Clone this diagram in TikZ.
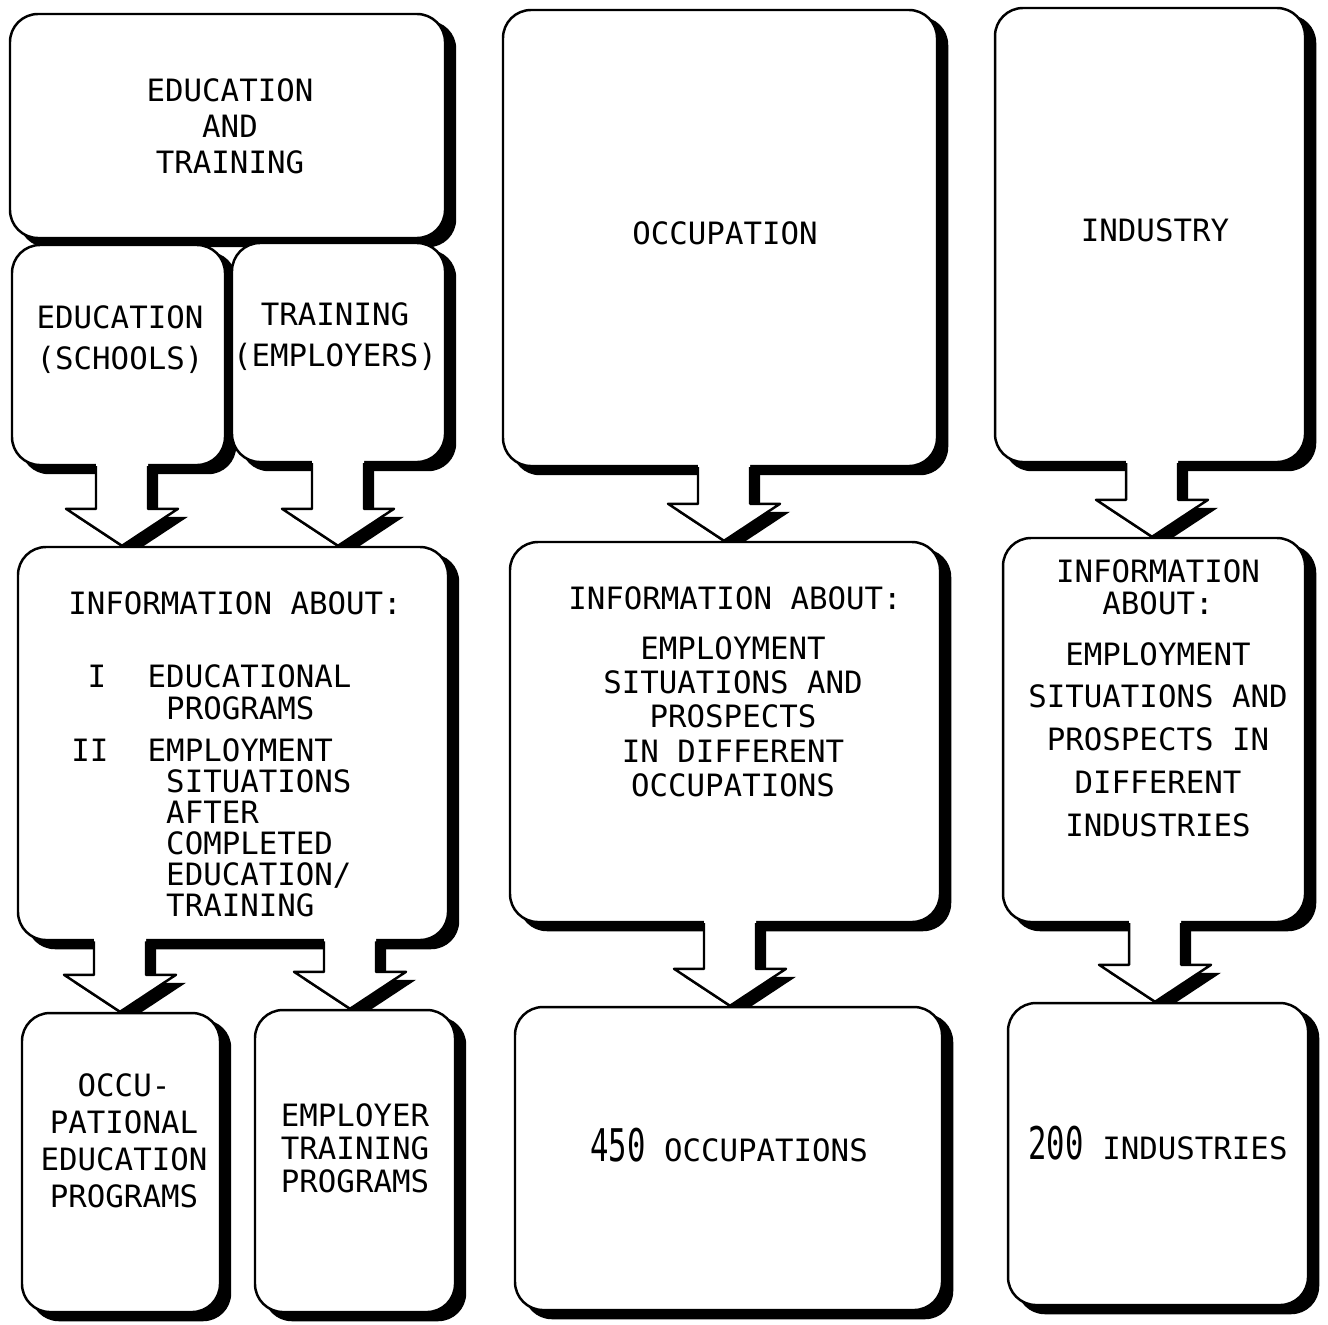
\documentclass[tikz,border=0pt]{standalone}
\usepackage{fontspec}
\usepackage{graphicx}
\usetikzlibrary{calc, fit}
\newfontfamily\typer{DejaVu Sans Mono}
\pgfdeclarelayer{shade}
\pgfsetlayers{shade,main}

\tikzset{
  panel/.style={draw, line width=0.7pt, fill=white, rounded corners=0.28cm, inner sep=0pt},
  txt/.style={font=\typer\fontsize{8.75pt}{#1}\selectfont, align=center, inner sep=0pt},
  txt/.default=10pt,
  lefttxt/.style={txt=#1, align=left, anchor=west},
  shadowshift/.style={transform canvas={shift={(10,8)}}},
  outline/.style={line width=0.7pt, line join=round},
}
\newcommand{\bignum}[1]{{\fontsize{12.8pt}{12.8pt}\selectfont\scalebox{0.68}[1]{#1}}}

\begin{document}
\begin{tikzpicture}[x=0.01cm, y=-0.01cm]

    \useasboundingbox (0,0) rectangle (1328,1324);

    \node[panel, fit={(10,14) (445,238)}] (edtr) {};
    \node[panel, fit={(12,245) (225,465)}] (edsch) {};
    \node[panel, fit={(232,243) (445,462)}] (trem) {};
    \node[panel, fit={(18,547) (448,940)}] (info1) {};
    \node[panel, fit={(22,1013) (220,1312)}] (occed) {};
    \node[panel, fit={(255,1010) (455,1312)}] (emptr) {};

    \node[panel, fit={(503,10) (937,466)}] (occ) {};
    \node[panel, fit={(510,542) (940,922)}] (info2) {};
    \node[panel, fit={(515,1007) (942,1310)}] (n450) {};

    \node[panel, fit={(995,8) (1305,462)}] (ind) {};
    \node[panel, fit={(1003,538) (1305,922)}] (info3) {};
    \node[panel, fit={(1008,1003) (1308,1305)}] (n200) {};

    \begin{pgfonlayer}{shade}
      \foreach \n in {edtr, edsch, trem, info1, occed, emptr, occ, info2, n450, ind, info3, n200}
        \fill[rounded corners=0.28cm, shadowshift] (\n.south west) rectangle (\n.north east);
    \end{pgfonlayer}

    \node[txt=10.24pt] (edtr-t) at (230,126) {EDUCATION\\AND\\TRAINING};
    \node[txt=11.67pt] (edsch-t) at (120,340) {EDUCATION\\(SCHOOLS)};
    \node[txt=11.67pt] (trem-t) at (335,337) {TRAINING\\(EMPLOYERS)};

    \node[txt] (info1-h) at (235,603) {INFORMATION ABOUT:};
    \node[txt] (info1-n1) at (97,676) {I};
    \node[lefttxt=9.1pt] (info1-i1) at (147,692) {EDUCATIONAL\\\phantom{E}PROGRAMS};
    \node[txt] (info1-n2) at (90,750) {II};
    \node[lefttxt=8.82pt] (info1-i2) at (147,827.5) {EMPLOYMENT\\\phantom{E}SITUATIONS\\\phantom{E}AFTER\\\phantom{E}COMPLETED\\\phantom{E}EDUCATION/\\\phantom{E}TRAINING};

    \node[txt=10.5pt] (occed-t) at (124,1140.5) {OCCU-\\PATIONAL\\EDUCATION\\PROGRAMS};
    \node[txt=9.4pt] (emptr-t) at (355,1148) {EMPLOYER\\TRAINING\\PROGRAMS};

    \node[txt] (occ-t) at (725,233) {OCCUPATION};
    \node[txt] (info2-h) at (735,598) {INFORMATION ABOUT:};
    \node[txt=9.75pt] (info2-t) at (733,716.5) {EMPLOYMENT\\SITUATIONS AND\\PROSPECTS\\IN DIFFERENT\\OCCUPATIONS};
    \node[txt] (n450-t) at (729,1145) {\bignum{450} OCCUPATIONS};

    \node[txt] (ind-t) at (1155,230) {INDUSTRY};
    \node[txt=9.1pt] (info3-h) at (1158,587) {INFORMATION\\ABOUT:};
    \node[txt=12.16pt] (info3-t) at (1158,739.5) {EMPLOYMENT\\SITUATIONS AND\\PROSPECTS IN\\DIFFERENT\\INDUSTRIES};
    \node[txt] (n200-t) at (1158,1143) {\bignum{200} INDUSTRIES};

    \foreach \src/\dst/\cx in {edsch/info1/122, trem/info1/338, info1/occed/120, info1/emptr/350,
                               occ/info2/724, info2/n450/730, ind/info3/1152, info3/n200/1155}{
      \coordinate (s) at (\src.south -| \cx,0);
      \coordinate (t) at (\dst.north -| \cx,0);
      \begin{pgfonlayer}{shade}
        \fill[shadowshift] ($(s)+(-26,-5)$) -- ($(t)+(-26,-37)$) -- ($(t)+(-56,-37)$) -- (t)
          -- ($(t)+(56,-37)$) -- ($(t)+(26,-37)$) -- ($(s)+(26,-5)$) -- cycle;
      \end{pgfonlayer}
      \fill[white] ($(s)+(-26,-5)$) -- ($(t)+(-26,-37)$) -- ($(t)+(-56,-37)$) -- (t)
        -- ($(t)+(56,-37)$) -- ($(t)+(26,-37)$) -- ($(s)+(26,-5)$) -- cycle;
      \draw[outline] ($(s)+(-26,0)$) -- ($(t)+(-26,-37)$) -- ($(t)+(-56,-37)$) -- (t)
        -- ($(t)+(56,-37)$) -- ($(t)+(26,-37)$) -- ($(s)+(26,0)$);
    }

\end{tikzpicture}
\end{document}
